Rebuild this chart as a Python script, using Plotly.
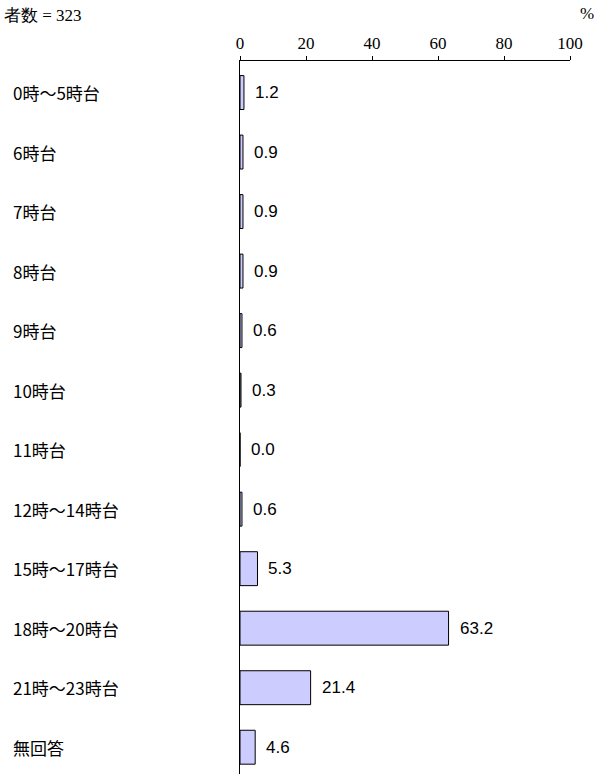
import plotly.graph_objects as go

categories = ["0時～5時台", "6時台", "7時台", "8時台", "9時台", "10時台", "11時台",
              "12時～14時台", "15時～17時台", "18時～20時台", "21時～23時台", "無回答"]
values = [1.2, 0.9, 0.9, 0.9, 0.6, 0.3, 0.0, 0.6, 5.3, 63.2, 21.4, 4.6]
tick_vals = [0, 20, 40, 60, 80, 100]
sample_text = "者数 = 323"
unit_text = "%"

serif = "Liberation Serif, DejaVu Serif, serif"
sans = "Noto Sans CJK JP, sans-serif"
num = "Liberation Sans, Arial, sans-serif"

fig = go.Figure()
fig.add_trace(go.Bar(
    x=values, y=categories, orientation="h",
    marker=dict(color="#CCCCFF", line=dict(color="#000000", width=1)),
    width=0.57, hoverinfo="skip",
))

for c, v in zip(categories, values):
    fig.add_annotation(x=v, y=c, xref="x", yref="y", text=f"{v:.1f}",
                       showarrow=False, xanchor="left", xshift=9,
                       font=dict(family=num, size=17, color="#000"))
    fig.add_annotation(x=-0.693, y=c, xref="paper", yref="y", text=c,
                       showarrow=False, xanchor="left",
                       font=dict(family=sans, size=17, color="#000"))

fig.add_annotation(x=-0.721, y=1, xref="paper", yref="paper", yshift=46,
                   text=sample_text, showarrow=False, xanchor="left", yanchor="middle",
                   font=dict(family=serif, size=17, color="#000"))
fig.add_annotation(x=1.052, y=1, xref="paper", yref="paper", yshift=48,
                   text=unit_text, showarrow=False, xanchor="center", yanchor="middle",
                   font=dict(family=serif, size=17, color="#000"))

fig.update_layout(
    width=611, height=774,
    margin=dict(l=240, r=41, t=61, b=0),
    plot_bgcolor="white", paper_bgcolor="white",
    showlegend=False,
    xaxis=dict(range=[0, 100], side="top", tickvals=tick_vals, ticks="outside",
               ticklen=4, tickcolor="#000", showline=True, linecolor="#000",
               linewidth=1, showgrid=False, zeroline=False,
               tickfont=dict(family=serif, size=17, color="#000")),
    yaxis=dict(categoryorder="array", categoryarray=categories,
               range=[11.45, -0.53], showline=True, linecolor="#000", linewidth=1,
               showticklabels=False, ticks="", showgrid=False, zeroline=False),
)

fig.write_html("out.html", config={"displayModeBar": False},
               post_script="document.body.style.margin='0px';")
